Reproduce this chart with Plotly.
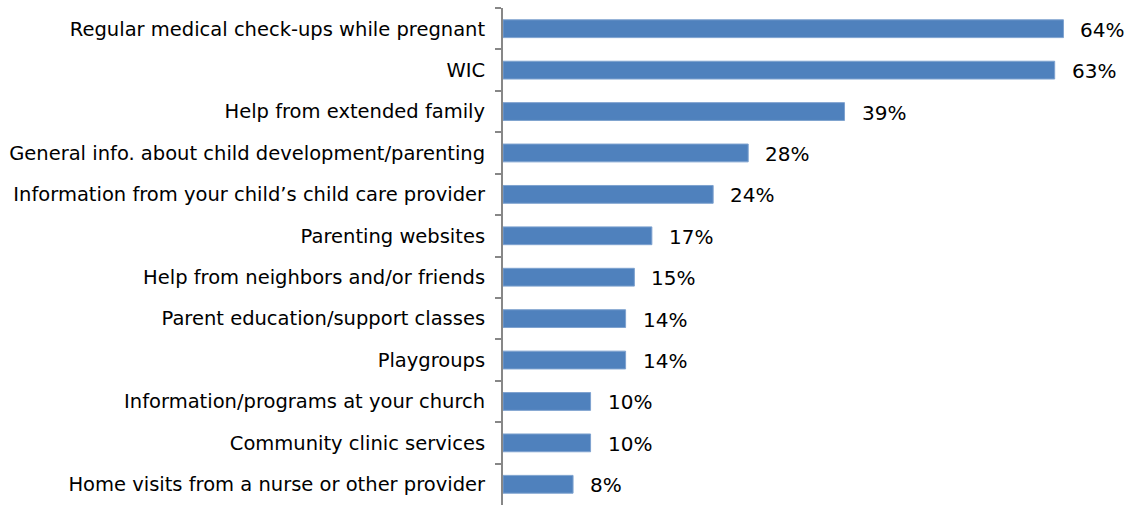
import plotly.graph_objects as go

categories = [
    "Regular medical check-ups while pregnant",
    "WIC",
    "Help from extended family",
    "General info. about child development/parenting",
    "Information from your child\u2019s child care provider",
    "Parenting websites",
    "Help from neighbors and/or friends",
    "Parent education/support classes",
    "Playgroups",
    "Information/programs at your church",
    "Community clinic services",
    "Home visits from a nurse or other provider",
]
percent = [64, 63, 39, 28, 24, 17, 15, 14, 14, 10, 10, 8]

FONT = "DejaVu Sans"
BAR = "#4F81BD"
AXIS = "#878787"

fig = go.Figure(
    go.Bar(
        y=categories,
        x=percent,
        orientation="h",
        marker=dict(color=BAR, line=dict(color="#7EA2CF", width=1)),
        width=0.43,
        hoverinfo="skip",
    )
)

# value labels to the right of each bar
for cat, val in zip(categories, percent):
    fig.add_annotation(
        x=val, y=cat, text=f"{val}%", showarrow=False,
        xanchor="left", xshift=15, yshift=-1,
        font=dict(family=FONT, size=20, color="#000000"),
    )

fig.update_layout(
    width=1132, height=505,
    margin=dict(l=503, r=16, t=8, b=0),
    paper_bgcolor="white", plot_bgcolor="white",
    showlegend=False,
    font=dict(family=FONT, size=19, color="#000000"),
)
fig.update_xaxes(range=[0, 70], visible=False, fixedrange=True)
fig.update_yaxes(
    autorange="reversed",
    showline=True, linecolor=AXIS, linewidth=2,
    ticks="outside", ticklen=6, tickcolor=AXIS, tickwidth=2,
    tickson="boundaries",
    ticklabelstandoff=12,
    showgrid=False, zeroline=False,
    tickfont=dict(family=FONT, size=19.5, color="#000000"),
    fixedrange=True,
)

fig.write_html("out.html")
